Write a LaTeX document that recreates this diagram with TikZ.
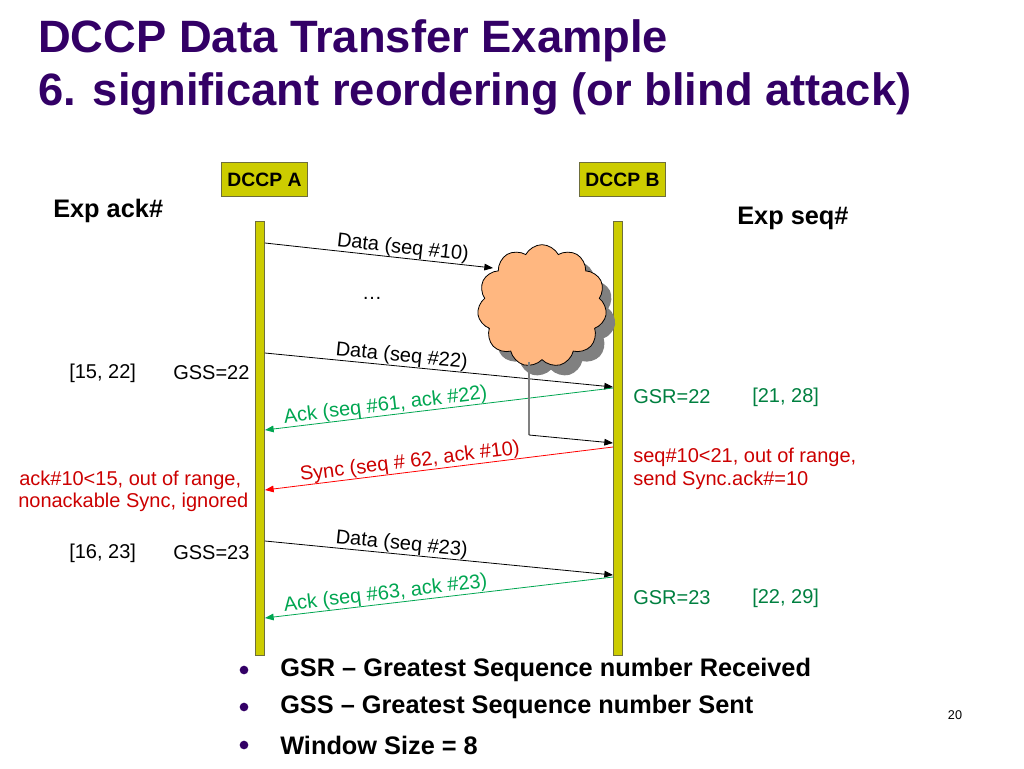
\documentclass[tikz,border=0pt]{standalone}
\usepackage{fontspec}
\setmainfont{Liberation Sans}
\usetikzlibrary{arrows.meta,shapes.symbols}
\definecolor{titlepurple}{RGB}{51,0,102}
\definecolor{lifeyellow}{RGB}{204,204,0}
\definecolor{lifeborder}{RGB}{110,110,60}
\definecolor{ackgreen}{RGB}{0,166,81}
\definecolor{gsrgreen}{RGB}{0,128,64}
\definecolor{syncred}{RGB}{255,0,0}
\definecolor{textred}{RGB}{204,0,0}
\definecolor{cloudorange}{RGB}{255,183,128}
\definecolor{shadowgray}{RGB}{128,128,128}
\begin{document}
\begin{tikzpicture}[x=0.75pt,y=-0.75pt,
  lifeline/.style={draw=lifeborder, fill=lifeyellow, line width=0.6pt, minimum width=7pt, minimum height=325.5pt, inner sep=0pt, anchor=north},
  hostbox/.style={draw=lifeborder, fill=lifeyellow, line width=0.6pt, minimum width=64pt, minimum height=25pt, font=\fontsize{14.5}{16}\selectfont\bfseries, inner sep=0pt},
  msg/.style={-{Triangle[length=6.5pt,width=5pt]}, line width=0.6pt},
  lbl/.style={font=\fontsize{15}{17}\selectfont, sloped, above, inner sep=0pt},
  plain/.style={font=\fontsize{15}{17}\selectfont, inner sep=0pt},
  head/.style={font=\fontsize{19}{22}\selectfont\bfseries, inner sep=0pt},
  bullettext/.style={font=\fontsize{19}{22}\selectfont\bfseries, inner sep=0pt, anchor=west},
  dot/.style={circle, fill=titlepurple, minimum size=6.5pt, inner sep=0pt},
  puff/.style={cloud, cloud puffs=11, cloud puff arc=125, aspect=1.07, minimum width=97pt, minimum height=92pt, inner sep=0pt}
]
\useasboundingbox (0,0) rectangle (1024,768);
\fill[white] (0,0) rectangle (1024,768);

% title
\node[anchor=base west, font=\fontsize{34}{40}\selectfont\bfseries, text=titlepurple, inner sep=0pt] (t1) at (38,52) {DCCP Data Transfer Example};
\node[anchor=base west, font=\fontsize{34}{40}\selectfont\bfseries, text=titlepurple, inner sep=0pt] (t2) at (38,105) {6. significant reordering (or blind attack)};

% hosts
\node[hostbox] (hA) at (264.5,179.5) {DCCP A};
\node[hostbox] (hB) at (622.5,179.5) {DCCP B};
\node[head, anchor=west] (expack) at (53,211) {Exp ack\#};
\node[head, anchor=west] (expseq) at (737,218) {Exp seq\#};

% lifelines
\node[lifeline] (A) at (260,221) {};
\node[lifeline] (B) at (618,221) {};

% cloud
\node[puff, fill=shadowgray, draw=none] (cshadow) at (551,316) {};
\node[puff, fill=cloudorange, draw=black, line width=0.6pt] (cl) at (542,306) {};

% coordinates on lifelines
\coordinate (a1) at (265,243);
\coordinate (c1) at (493,268);
\coordinate (a2) at (265,353);
\coordinate (b2) at (613,387);
\coordinate (b3) at (613,388);
\coordinate (a3) at (265,430);
\coordinate (g1) at (529,362);
\coordinate (g2) at (529,435);
\coordinate (b4) at (613,443);
\coordinate (b5) at (613,447);
\coordinate (a5) at (265,490);
\coordinate (a6) at (265,541);
\coordinate (b6) at (613,575);
\coordinate (b7) at (613,577);
\coordinate (a7) at (265,618);

% messages
\draw[msg] (a1) -- node[lbl, pos=0.6] {Data (seq \#10)} (c1);
\node[plain] (dots) at (372,298) {\ldots};
\draw[msg] (a2) -- node[lbl, pos=0.39] {Data (seq \#22)} (b2);
\draw[msg, ackgreen] (b3) -- node[lbl, pos=0.65, text=ackgreen] {Ack (seq \#61, ack \#22)} (a3);
\draw[shadowgray, line width=0.8pt] (g1) -- (g2);
\draw[msg] (g2) -- (b4);
\draw[msg, syncred] (b5) -- node[lbl, pos=0.58, text=textred] {Sync (seq \# 62, ack \#10)} (a5);
\draw[msg] (a6) -- node[lbl, pos=0.39] {Data (seq \#23)} (b6);
\draw[msg, ackgreen] (b7) -- node[lbl, pos=0.65, text=ackgreen] {Ack (seq \#63, ack \#23)} (a7);

% left annotations
\node[plain, anchor=west] (w1) at (69,373) {[15, 22]};
\node[plain, anchor=west] (g22) at (173,373) {GSS=22};
\node[plain, anchor=west, text=textred] (r1) at (19,480) {ack\#10<15, out of range,};
\node[plain, anchor=west, text=textred] (r2) at (18,502) {nonackable Sync, ignored};
\node[plain, anchor=west] (w2) at (69,553) {[16, 23]};
\node[plain, anchor=west] (g23) at (173,553) {GSS=23};

% right annotations
\node[plain, anchor=west, text=gsrgreen] (s1) at (633,397) {GSR=22};
\node[plain, anchor=west, text=gsrgreen] (s2) at (752,397) {[21, 28]};
\node[plain, anchor=west, text=textred] (r3) at (633,457) {seq\#10<21, out of range,};
\node[plain, anchor=west, text=textred] (r4) at (633,480) {send Sync.ack\#=10};
\node[plain, anchor=west, text=gsrgreen] (s3) at (633,598) {GSR=23};
\node[plain, anchor=west, text=gsrgreen] (s4) at (752,598) {[22, 29]};

% bullets
\node[dot] (d1) at (244,670) {};
\node[dot] (d2) at (244,707) {};
\node[dot] (d3) at (244,745) {};
\node[bullettext] (bt1) at (280,670) {GSR – Greatest Sequence number Received};
\node[bullettext] (bt2) at (280,707) {GSS – Greatest Sequence number Sent};
\node[bullettext] (bt3) at (280,745) {Window Size = 8};
\node[font=\fontsize{9.5}{11}\selectfont, inner sep=0pt] (pg) at (955,715) {20};
\end{tikzpicture}
\end{document}
